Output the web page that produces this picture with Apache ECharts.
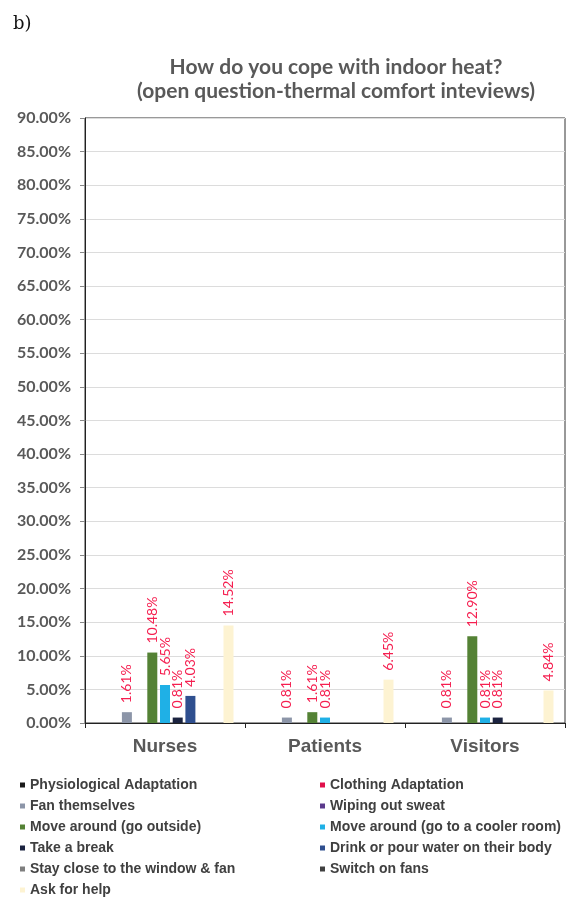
<!DOCTYPE html>
<html>
<head>
<meta charset="utf-8">
<script src="https://cdn.jsdelivr.net/npm/echarts@6/dist/echarts.min.js"></script>
<style>
html,body{margin:0;padding:0;background:#fff;}
#c{width:578px;height:898px;}
</style>
</head>
<body>
<div id="c"></div>
<script>
var categories = ['Nurses', 'Patients', 'Visitors'];
var yTicks = [0, 90, 5];
var seriesNames = [
  'Physiological Adaptation', 'Clothing Adaptation', 'Fan themselves', 'Wiping out sweat',
  'Move around (go outside)', 'Move around (go to a cooler room)', 'Take a break',
  'Drink or pour water on their body', 'Stay close to the window & fan', 'Switch on fans', 'Ask for help'
];
var physiological = [0, 0, 0];
var clothing = [0, 0, 0];
var fanThemselves = [1.61, 0.81, 0.81];
var wiping = [0, 0, 0];
var moveOutside = [10.48, 1.61, 12.90];
var moveCooler = [5.65, 0.81, 0.81];
var takeBreak = [0.81, 0, 0.81];
var drinkWater = [4.03, 0, 0];
var stayClose = [0, 0, 0];
var switchFans = [0, 0, 0];
var askHelp = [14.52, 6.45, 4.84];
var seriesData = [physiological, clothing, fanThemselves, wiping, moveOutside, moveCooler,
  takeBreak, drinkWater, stayClose, switchFans, askHelp];
var colors = ['#1a1a1a', '#e0104a', '#8c95a8', '#5b3a8c', '#548235', '#1fb0e6',
  '#1b2340', '#2f4f8f', '#7f7f7f', '#404040', '#fdf3d2'];

var chart = echarts.init(document.getElementById('c'), null, {renderer: 'canvas'});
var series = seriesNames.map(function (n, i) {
  return {
    name: n, type: 'bar', data: seriesData[i], barWidth: 10, barGap: '27%',
    itemStyle: {color: colors[i]},
    label: {
      show: true, position: 'top', rotate: 90, align: 'left', verticalAlign: 'middle',
      distance: 9, color: '#f51f50', fontFamily: 'Lato', fontSize: 14,
      formatter: function (p) { return p.value > 0 ? p.value.toFixed(2) + '%' : ''; }
    }
  };
});
var legendText = {color: '#404040', fontFamily: 'Liberation Sans', fontWeight: 'bold', fontSize: 14};
chart.setOption({
  animation: false,
  backgroundColor: '#fff',
  color: colors,
  title: [
    {text: 'b)', left: 8, top: 10, textStyle: {fontFamily: 'DejaVu Serif', fontWeight: 'normal', fontSize: 18, color: '#111'}},
    {text: 'How do you cope with indoor heat?\n(open question-thermal comfort inteviews)', left: 331, top: 50,
      textAlign: 'center',
      textStyle: {fontFamily: 'Lato', fontWeight: 'bold', fontSize: 21, lineHeight: 24, color: '#595959'}}
  ],
  legend: [
    {orient: 'vertical', left: 20, top: 778, padding: 0, itemWidth: 5, itemHeight: 5, itemGap: 7, icon: 'rect',
      data: [seriesNames[0], seriesNames[2], seriesNames[4], seriesNames[6], seriesNames[8], seriesNames[10]],
      textStyle: legendText},
    {orient: 'vertical', left: 320, top: 778, padding: 0, itemWidth: 5, itemHeight: 5, itemGap: 7, icon: 'rect',
      data: [seriesNames[1], seriesNames[3], seriesNames[5], seriesNames[7], seriesNames[9]],
      textStyle: legendText}
  ],
  grid: {left: 85, right: 13, top: 118, bottom: 175, show: true, borderColor: '#333', borderWidth: 1},
  xAxis: {
    type: 'category', data: categories,
    axisLine: {lineStyle: {color: '#222'}},
    axisTick: {show: true, length: 5, lineStyle: {color: '#222'}},
    axisLabel: {color: '#595959', fontFamily: 'Liberation Sans', fontWeight: 'bold', fontSize: 19, margin: 14}
  },
  yAxis: {
    type: 'value', min: yTicks[0], max: yTicks[1], interval: yTicks[2],
    axisLine: {show: true, lineStyle: {color: '#222'}},
    axisTick: {show: true, length: 5, lineStyle: {color: '#888'}},
    splitLine: {lineStyle: {color: '#dcdcdc'}},
    axisLabel: {color: '#595959', fontFamily: 'Lato', fontWeight: 'bold', fontSize: 16, margin: 14,
      formatter: function (v) { return v.toFixed(2) + '%'; }}
  },
  series: series
});
</script>
</body>
</html>
